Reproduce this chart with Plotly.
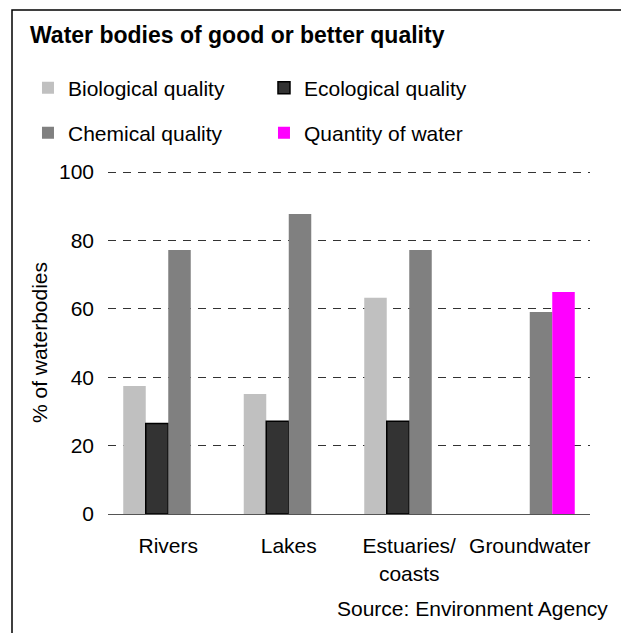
import plotly.graph_objects as go

categories = ["Rivers", "Lakes", "Estuaries/<br>coasts", "Groundwater"]
biological = [37.4, 35.1, 63.2, None]
ecological = [26.5, 27.1, 27.1, None]
chemical = [77.2, 87.7, 77.2, 59.1]
quantity = [None, None, None, 64.9]

FONT = "Liberation Sans, Arial, sans-serif"

# page has an 8px body margin, so layout positions are screen positions minus 8
fig = go.Figure()
fig.add_trace(go.Bar(x=categories, y=biological, name="Biological quality",
                     marker=dict(color="#c0c0c0", line_width=0), legend="legend"))
fig.add_trace(go.Bar(x=categories, y=ecological, name="Ecological quality",
                     marker=dict(color="#333333", line=dict(color="#000000", width=1.5)),
                     legend="legend"))
fig.add_trace(go.Bar(x=categories, y=chemical, name="Chemical quality",
                     marker=dict(color="#808080", line_width=0), legend="legend2"))
fig.add_trace(go.Bar(x=categories, y=quantity, name="Quantity of water",
                     marker=dict(color="#ff00ff", line_width=0), legend="legend2"))

legend_common = dict(
    orientation="h", xanchor="left", yanchor="middle", x=-0.166,
    font=dict(family=FONT, size=21, color="#000000"),
    entrywidth=191, bgcolor="rgba(0,0,0,0)", borderwidth=0,
)

fig.update_layout(
    width=629, height=633,
    margin=dict(l=100, r=47, t=163, b=127),
    paper_bgcolor="white", plot_bgcolor="white",
    font=dict(family=FONT, size=21, color="#000000"),
    barmode="group", bargap=0.253, bargroupgap=0,
    title=dict(text="<b>Water bodies of good or better quality</b>",
               x=22 / 629, xref="container", xanchor="left",
               y=1 - 27 / 633, yref="container", yanchor="middle",
               font=dict(family=FONT, size=23, color="#000000")),
    legend=dict(y=(506 - 80) / 343, **legend_common),
    legend2=dict(y=(506 - 125) / 343, **legend_common),
    xaxis=dict(showline=True, linecolor="#555555", linewidth=1, ticks="",
               showgrid=False, ticklabelstandoff=13,
               tickfont=dict(family=FONT, size=21, color="#000000")),
    yaxis=dict(range=[0, 100.3], dtick=20, showline=False, zeroline=False,
               showgrid=True, gridcolor="#333333", gridwidth=1, griddash="8px,7px",
               ticks="", ticklabelstandoff=13,
               tickfont=dict(family=FONT, size=21, color="#000000"),
               title=dict(text="% of waterbodies", standoff=5,
                          font=dict(family=FONT, size=21, color="#000000"))),
    shapes=[dict(type="rect", xref="paper", yref="paper",
                 x0=(4 - 100) / 482, x1=(615 - 100) / 482,
                 y0=-0.4, y1=(506 - 2) / 343,
                 line=dict(color="#000000", width=1.5), layer="below")],
    annotations=[dict(text="Source: Environment Agency", xref="paper", yref="paper",
                      x=(602 - 100) / 482, y=(506 - 600) / 343,
                      xanchor="right", yanchor="middle", showarrow=False,
                      font=dict(family=FONT, size=21, color="#000000"))],
)

fig.write_html("out.html")
